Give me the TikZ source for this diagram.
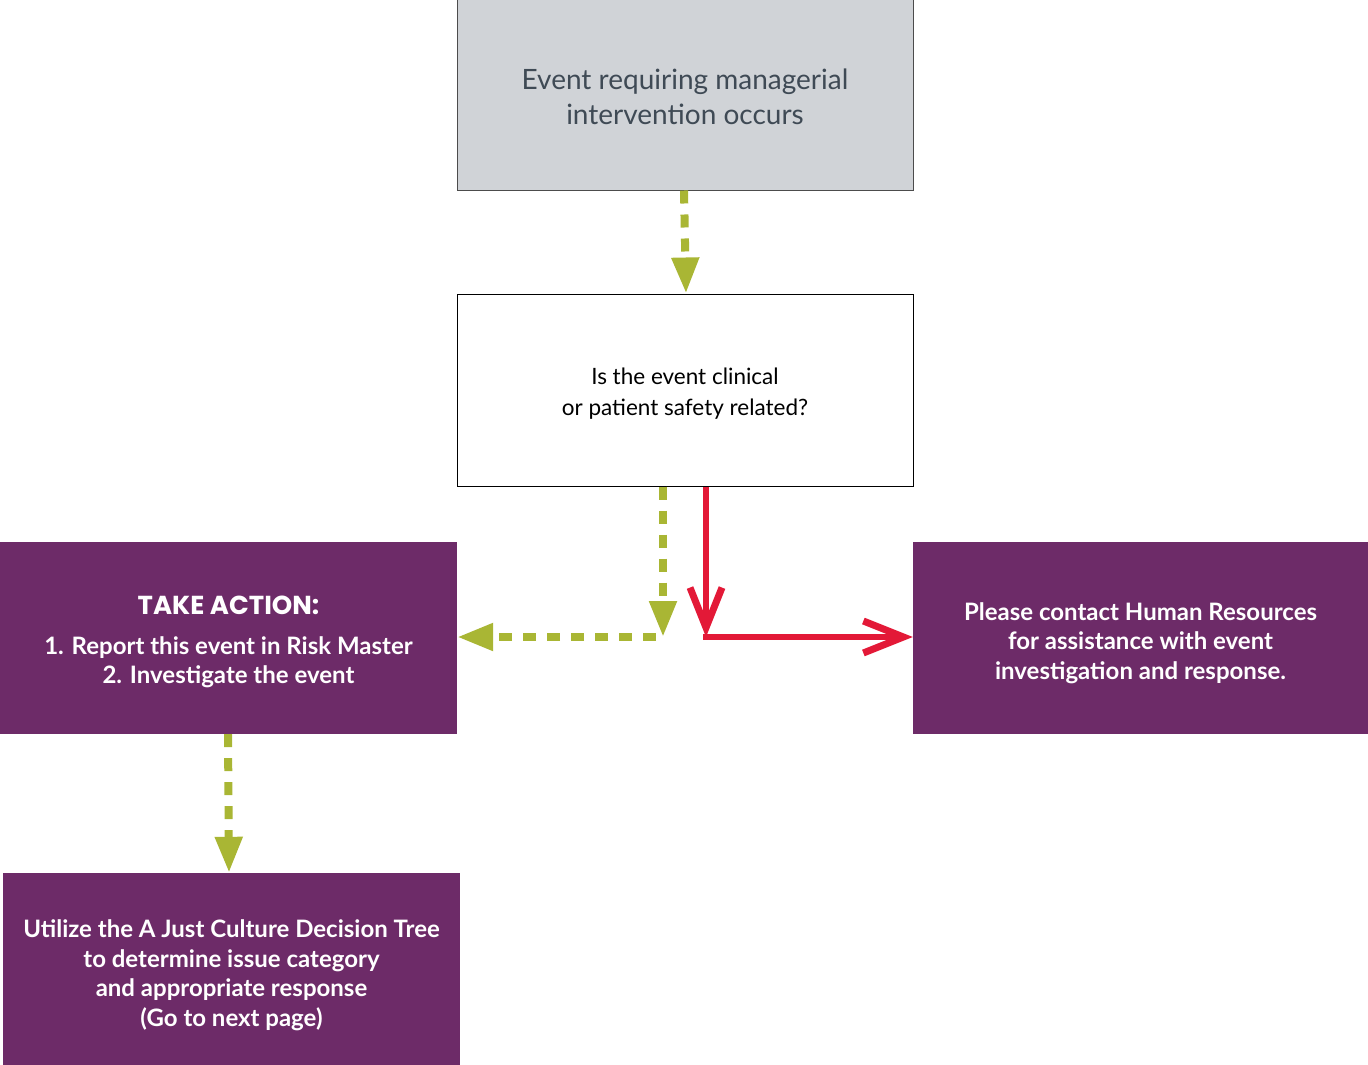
\documentclass[tikz,border=0pt]{standalone}
\usepackage{fontspec}
\setmainfont{Lato}
\newfontfamily\headfont{Poppins}
\usetikzlibrary{arrows.meta}
\definecolor{jgreen}{HTML}{A9B634}
\definecolor{jred}{HTML}{E31937}
\definecolor{jpurple}{HTML}{6D2B68}
\definecolor{jgray}{HTML}{D0D3D7}
\definecolor{jslate}{HTML}{3F4A55}
\begin{document}
\begin{tikzpicture}[x=1pt,y=-1pt,
  box/.style={rectangle,minimum width=456pt,minimum height=192pt,inner sep=0pt,align=center},
  graybox/.style={box,fill=jgray,draw=black!70,line width=1pt},
  whitebox/.style={box,fill=white,draw=black,line width=1pt},
  purplebox/.style={box,fill=jpurple},
  graytext/.style={align=center,inner sep=0pt,text=jslate,font=\fontsize{28}{35}\selectfont},
  whitetext/.style={align=center,inner sep=0pt,text=black,font=\fontsize{22.5}{31}\selectfont},
  ptext/.style={align=center,inner sep=0pt,text=white,font=\bfseries\fontsize{24}{29.5}\selectfont},
  gline/.style={draw=jgreen,line width=8pt,dash pattern=on 13pt off 11pt,-{Triangle[length=36pt,width=26pt]}},
  rline/.style={draw=jred,line width=6pt,-{Straight Barb[length=40pt,width=32pt,line width=7pt]}}
]
\useasboundingbox (0,0) rectangle (1368,1065);
\node[graybox] (event) at (685,94) {};
\node[graytext] (eventtext) at (685,97) {Event requiring managerial\\intervention occurs};
\node[whitebox] (q) at (685,390) {};
\node[whitetext] (qtext) at (685,394) {Is the event clinical\\or patient safety related?};
\node[purplebox,minimum width=457pt] (act) at (228.5,638) {};
\node[ptext] (acttext) at (228.5,642) {{\headfont\bfseries\fontsize{26}{28}\selectfont TAKE ACTION:}\\[10pt]1. Report this event in Risk Master\\2. Investigate the event};
\node[purplebox,minimum width=455pt] (hr) at (1140.5,638) {};
\node[ptext] (hrtext) at (1140.5,643) {Please contact Human Resources\\for assistance with event\\investigation and response.};
\node[purplebox,minimum width=457pt] (tree) at (231.5,969) {};
\node[ptext] (treetext) at (231.5,975) {Utilize the A Just Culture Decision Tree\\to determine issue category\\and appropriate response\\(Go to next page)};
\coordinate (gc) at (663,637);
\coordinate (rc) at (706,637);
% connectors
\draw[gline] (event.south -| 684,0) -- (q.north -| 686,0);
\draw[gline] (q.south -| gc) -- (gc);
\draw[gline,dash phase=13pt] ([xshift=4pt]gc) -- (act.east |- gc);
\draw[rline] (q.south -| rc) -- (rc);
\draw[rline] ([xshift=-3pt]rc) -- (hr.west |- rc);
\draw[gline] (act.south -| 228,0) -- (tree.north -| 229,0);
\end{tikzpicture}
\end{document}
